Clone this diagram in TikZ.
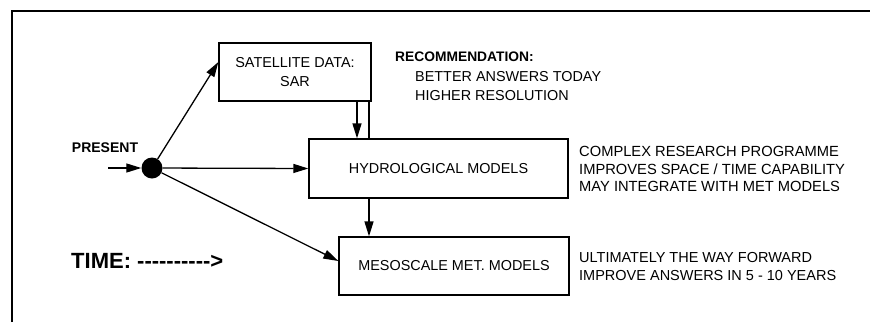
\documentclass[tikz,border=0pt]{standalone}
\usepackage{fontspec}
\setmainfont{Liberation Sans}
\usetikzlibrary{arrows.meta}
\tikzset{
    modelbox/.style={rectangle, draw, line width=1.3pt,
        font=\fontsize{14.4}{19}\selectfont,
        align=center, inner sep=2pt},
    notetext/.style={inner sep=0pt, anchor=west, align=left,
        font=\fontsize{14.7}{17.5}\selectfont},
    flow/.style={-{Triangle[length=15pt,width=9pt]}, line width=1.3pt},
    plainline/.style={line width=1.3pt},
    framel/.style={line width=1.7pt}
}

\begin{document}
\begin{tikzpicture}[x=1pt, y=-1pt]
\useasboundingbox (0,0) rectangle (870,322);

% Frame
\draw[framel] (12,322) -- (12,11) -- (870,11);

% Boxes
\node[modelbox, minimum width=152pt, minimum height=58pt] (sat) at (295,72) {SATELLITE DATA:\\SAR};
\node[modelbox, minimum width=259pt, minimum height=59pt] (hydro) at (438.5,168.5) {HYDROLOGICAL MODELS};
\node[modelbox, minimum width=230pt, minimum height=58pt] (meso) at (454,266) {MESOSCALE MET. MODELS};

% Present point
\node[circle, fill, inner sep=0pt, minimum size=21pt] (now) at (152,168) {};
\coordinate (in) at (108,168);
\coordinate (al) at (357,0);
\coordinate (vl) at (369,0);

\draw[flow] (in) -- (now);
\draw[flow] (now) -- ([yshift=10pt]sat.west);
\draw[flow] (now) -- (hydro.west);
\draw[flow] (now) -- ([yshift=5pt]meso.west);
\draw[flow] (al |- sat.south) -- (al |- hydro.north);
\draw[plainline] (vl |- sat.south) -- (vl |- hydro.north);
\draw[flow] (vl |- hydro.south) -- (vl |- meso.north);

% Labels
\node[font=\fontsize{14}{17}\selectfont\bfseries, inner sep=0pt] (present) at (105,148) {PRESENT};
\node[font=\fontsize{22}{26}\selectfont\bfseries, inner sep=0pt, anchor=west] (time) at (71,261) {TIME: {-}{-}{-}{-}{-}{-}{-}{-}{-}{-}>};

\node[notetext, font=\fontsize{13.8}{17}\selectfont\bfseries] (rec) at (395,57) {RECOMMENDATION:};
\node[notetext, font=\fontsize{14.4}{19.5}\selectfont] (recl) at (415,86) {BETTER ANSWERS TODAY\\HIGHER RESOLUTION};

\node[notetext] (hydnote) at (579,169) {COMPLEX RESEARCH PROGRAMME\\IMPROVES SPACE / TIME CAPABILITY\\MAY INTEGRATE WITH MET MODELS};
\node[notetext, font=\fontsize{14.5}{18}\selectfont] (mesonote) at (579,267) {ULTIMATELY THE WAY FORWARD\\IMPROVE ANSWERS IN 5 - 10 YEARS};

\end{tikzpicture}
\end{document}
